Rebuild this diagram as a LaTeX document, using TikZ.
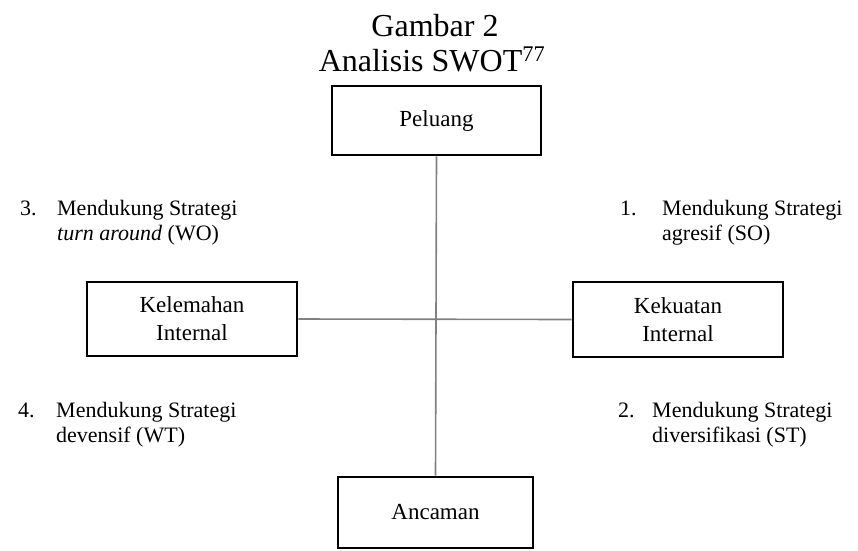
\documentclass[tikz,border=0pt]{standalone}
\usepackage{fontspec}
\setmainfont{Liberation Serif}
\begin{document}
\begin{tikzpicture}[x=1pt,y=-1pt,
  box/.style={draw=black,line width=2.6pt,align=center,font=\fontsize{23}{28}\selectfont,inner sep=0pt},
  conn/.style={draw=black!50,line width=1.6pt},
  lbl/.style={anchor=base west,inner sep=0pt,font=\fontsize{22}{25}\selectfont}]
\useasboundingbox (0,0) rectangle (858,550);
\node[anchor=base,font=\fontsize{32}{34}\selectfont,inner sep=0pt] (title1) at (435,36) {Gambar 2};
\node[anchor=base,font=\fontsize{32}{34}\selectfont,inner sep=0pt] (title2) at (432,71) {Analisis SWOT\textsuperscript{77}};
\node[box,minimum width=209pt,minimum height=69pt] (pel) at (436.5,120.5) {Peluang};
\node[box,minimum width=210pt,minimum height=74pt] (kel) at (192,319) {Kelemahan\\Internal};
\node[box,minimum width=210pt,minimum height=75pt] (kek) at (678,319.5) {Kekuatan\\Internal};
\node[box,minimum width=195pt,minimum height=71pt] (anc) at (435.5,512.5) {Ancaman};
\draw[conn] (pel.south) -- (anc.north);
\draw[conn] (kel.east) -- (kek.west);
\node[lbl] (s3) at (20,215) {\begin{tabular}[t]{@{}p{37pt}@{}l@{}}3.&Mendukung Strategi\\&\textit{turn around} (WO)\end{tabular}};
\node[lbl] (s1) at (620,215) {\begin{tabular}[t]{@{}p{42pt}@{}l@{}}1.&Mendukung Strategi\\&agresif (SO)\end{tabular}};
\node[lbl] (s4) at (18,417) {\begin{tabular}[t]{@{}p{38pt}@{}l@{}}4.&Mendukung Strategi\\&devensif (WT)\end{tabular}};
\node[lbl] (s2) at (618,417) {\begin{tabular}[t]{@{}p{34pt}@{}l@{}}2.&Mendukung Strategi\\&diversifikasi (ST)\end{tabular}};
\end{tikzpicture}
\end{document}
